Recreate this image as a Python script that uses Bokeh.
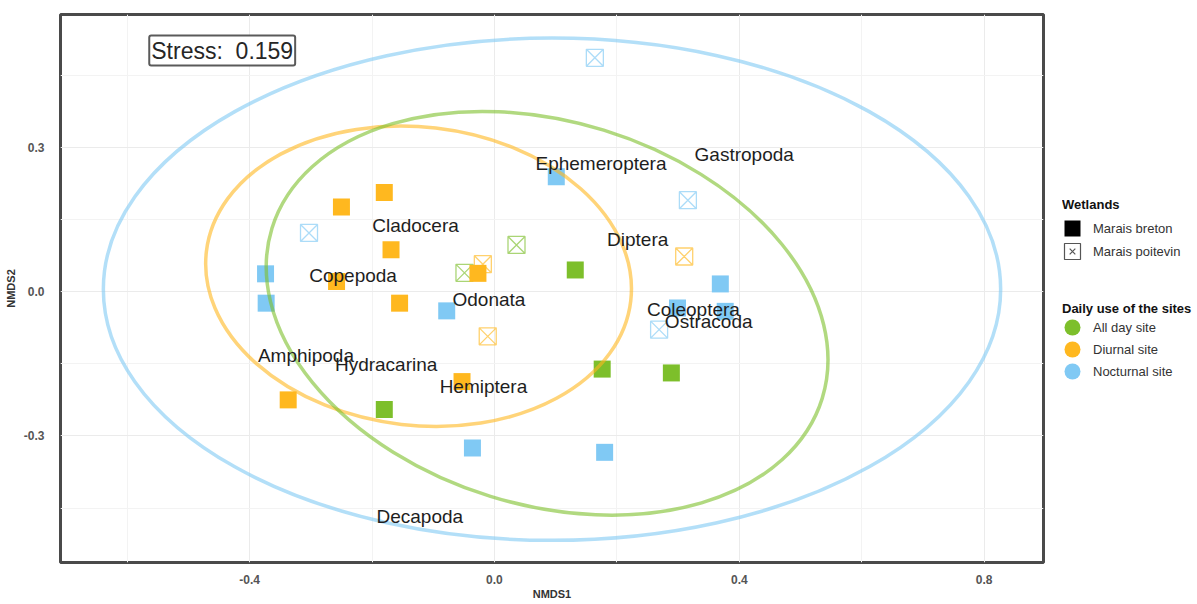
import numpy as np
from bokeh.plotting import figure
from bokeh.models import (Range1d, FixedTicker, PrintfTickFormatter, Label,
                          Legend, LegendItem, Spacer)
from bokeh.layouts import row, column
from bokeh.embed import file_html
from bokeh.resources import INLINE
from bokeh.core.properties import value

# ---------------- data (NMDS scores) ----------------
site_x = [-0.180, -0.250, -0.169, -0.258, -0.155, -0.027, -0.053, -0.337,
          0.132, 0.176, 0.289, -0.180,
          -0.374, -0.373, -0.078, 0.101, 0.369, 0.299, 0.377, -0.036, 0.180,
          0.164, 0.316, -0.303, 0.269,
          0.310, -0.019, -0.011,
          0.036, -0.049]
site_y = [0.206, 0.176, 0.087, 0.021, -0.024, 0.038, -0.187, -0.225,
          0.045, -0.161, -0.169, -0.245,
          0.037, -0.024, -0.040, 0.239, 0.016, -0.034, -0.041, -0.325, -0.334,
          0.486, 0.190, 0.122, -0.079,
          0.073, 0.057, -0.093,
          0.097, 0.039]
site_wetland = (["Marais breton"] * 21) + (["Marais poitevin"] * 9)
site_use = (["Diurnal site"] * 8 + ["All day site"] * 4 + ["Nocturnal site"] * 9 +
            ["Nocturnal site"] * 4 + ["Diurnal site"] * 3 + ["All day site"] * 2)

species = ["Ephemeroptera", "Gastropoda", "Cladocera", "Diptera", "Copepoda",
           "Odonata", "Coleoptera", "Ostracoda", "Amphipoda", "Hydracarina",
           "Hemiptera", "Decapoda"]
species_x = [0.174, 0.408, -0.129, 0.234, -0.231, -0.009, 0.325, 0.350,
             -0.308, -0.177, -0.018, -0.122]
species_y = [0.266, 0.284, 0.138, 0.109, 0.033, -0.017, -0.038, -0.062,
             -0.133, -0.152, -0.198, -0.468]

# 95% ellipses per daily-use group
ell_group = ["Nocturnal site", "Diurnal site", "All day site"]
ell_cx = [0.094, -0.124, 0.086]
ell_cy = [0.005, 0.032, -0.045]
ell_w = [1.466, 0.698, 0.941]
ell_h = [1.044, 0.620, 0.797]
ell_angle = [0.0, -0.115, -0.30]

stress = 0.159
use_labels = ["All day site", "Diurnal site", "Nocturnal site"]
wetland_labels = ["Marais breton", "Marais poitevin"]
x_ticks = [-0.4, 0.0, 0.4, 0.8]
x_minor = [-0.6, -0.2, 0.2, 0.6]
y_ticks = [-0.3, 0.0, 0.3]
y_minor = [-0.45, -0.15, 0.15, 0.45]
x_lim = (-0.709, 0.897)
y_lim = (-0.563, 0.576)

# ---------------- styles ----------------
use_color = {"All day site": "#7DBF2B", "Diurnal site": "#FFB81F",
             "Nocturnal site": "#80C9F4"}
FONT = "Liberation Sans"

p = figure(width=1048, height=602, x_range=Range1d(*x_lim), y_range=Range1d(*y_lim),
           output_backend="svg", toolbar_location=None,
           min_border_left=60, min_border_right=5, min_border_top=14,
           min_border_bottom=39, background_fill_color="white")
p.outline_line_color = "#4a4a4a"
p.outline_line_width = 3

p.xaxis.ticker = FixedTicker(ticks=x_ticks, minor_ticks=x_minor)
p.yaxis.ticker = FixedTicker(ticks=y_ticks, minor_ticks=y_minor)
p.xaxis.formatter = PrintfTickFormatter(format="%.1f")
p.yaxis.formatter = PrintfTickFormatter(format="%.1f")
for ax in (p.xaxis, p.yaxis):
    ax.axis_line_color = None
    ax.major_tick_line_color = None
    ax.minor_tick_line_color = None
    ax.major_label_text_font = FONT
    ax.major_label_text_font_size = "12px"
    ax.major_label_text_font_style = "bold"
    ax.major_label_text_color = "#555555"
    ax.axis_label_text_font = FONT
    ax.axis_label_text_font_size = "11px"
    ax.axis_label_text_font_style = "bold"
    ax.axis_label_text_color = "#333333"
p.xaxis.axis_label = "NMDS1"
p.yaxis.axis_label = "NMDS2"
p.xaxis.major_label_standoff = 6
p.xaxis.axis_label_standoff = 1
p.yaxis.major_label_standoff = 10
p.yaxis.axis_label_standoff = 4

for g in (p.xgrid, p.ygrid):
    g.grid_line_color = "#ebebeb"
    g.minor_grid_line_color = "#f3f3f3"

# points: Marais poitevin (crossed squares) then Marais breton (filled)
for wet in ["Marais poitevin", "Marais breton"]:
    idx = [i for i, w in enumerate(site_wetland) if w == wet]
    xs = [site_x[i] for i in idx]
    ys = [site_y[i] for i in idx]
    cs = [use_color[site_use[i]] for i in idx]
    if wet == "Marais breton":
        p.scatter(xs, ys, marker="square", size=17, fill_color=cs, line_color=None)
    else:
        p.scatter(xs, ys, marker="square_x", size=17, fill_color=None,
                  line_color=cs, line_width=1.3, line_alpha=0.65)

# ellipses
p.ellipse(x=ell_cx, y=ell_cy, width=ell_w, height=ell_h, angle=ell_angle,
          fill_color=None, line_color=[use_color[g] for g in ell_group],
          line_width=3.5, line_alpha=0.6)

# species labels
p.text(x=species_x, y=species_y, text=species, text_align="center",
       text_baseline="middle", text_font=value(FONT), text_font_size="19px",
       text_color="#1e1e1e")

# stress box
stress_lbl = Label(x=-0.564, y=0.501, text="Stress:\u00a0 %.3f" % stress,
                   text_align="left", text_baseline="middle",
                   text_font=FONT, text_font_size="23px", text_color="#262626",
                   border_line_color="#5a5a5a", border_line_width=2,
                   background_fill_color="white", padding=2, border_radius=2)
p.add_layout(stress_lbl)

# ---------------- legends (key glyphs only, nothing drawn in data space) ----------------
nan = [np.nan]

def legend_fig(h):
    f = figure(width=133, height=h, x_range=Range1d(0, 1), y_range=Range1d(0, 1),
               output_backend="svg", toolbar_location=None, min_border=0,
               x_axis_type=None, y_axis_type=None, outline_line_color=None)
    f.grid.visible = False
    return f

def style_legend(leg):
    leg.location = "top_left"
    leg.glyph_width = 20
    leg.glyph_height = 20
    leg.label_height = 20
    leg.label_standoff = 11
    leg.padding = 0
    leg.margin = 0
    leg.border_line_color = None
    leg.background_fill_alpha = 0
    leg.label_text_font = FONT
    leg.label_text_font_size = "13px"
    leg.label_text_color = "#333333"
    leg.title_text_font = FONT
    leg.title_text_font_size = "13px"
    leg.title_text_font_style = "bold"
    leg.title_text_color = "#111111"

lf1 = legend_fig(104)
r_breton = lf1.rect(x=nan, y=nan, width=16, height=16, width_units="screen",
                    height_units="screen", fill_color="black", line_color=None)
r_poit_box = lf1.rect(x=nan, y=nan, width=16, height=16, width_units="screen",
                      height_units="screen", fill_color="white",
                      line_color="#555555", line_width=1.2)
r_poit_x = lf1.scatter(x=nan, y=nan, marker="x", size=8, line_color="#555555",
                       line_width=1.2)
leg1 = Legend(items=[LegendItem(label=wetland_labels[0], renderers=[r_breton]),
                     LegendItem(label=wetland_labels[1],
                                renderers=[r_poit_box, r_poit_x])],
              title="Wetlands")
style_legend(leg1)
leg1.spacing = 3
leg1.title_standoff = 6
lf1.add_layout(leg1, "center")

lf2 = legend_fig(110)
r_use = [lf2.ellipse(x=nan, y=nan, width=16, height=16, width_units="screen",
                     height_units="screen", fill_color=use_color[u], line_color=None)
         for u in use_labels]
leg2 = Legend(items=[LegendItem(label=u, renderers=[r]) for u, r in zip(use_labels, r_use)],
              title="Daily use of the sites")
style_legend(leg2)
leg2.spacing = 2
leg2.title_standoff = 1
lf2.add_layout(leg2, "center")

layout = row(p, Spacer(width=14, height=10),
             column(Spacer(width=10, height=197), lf1, lf2))
open("out.html", "w").write(file_html(layout, INLINE))
